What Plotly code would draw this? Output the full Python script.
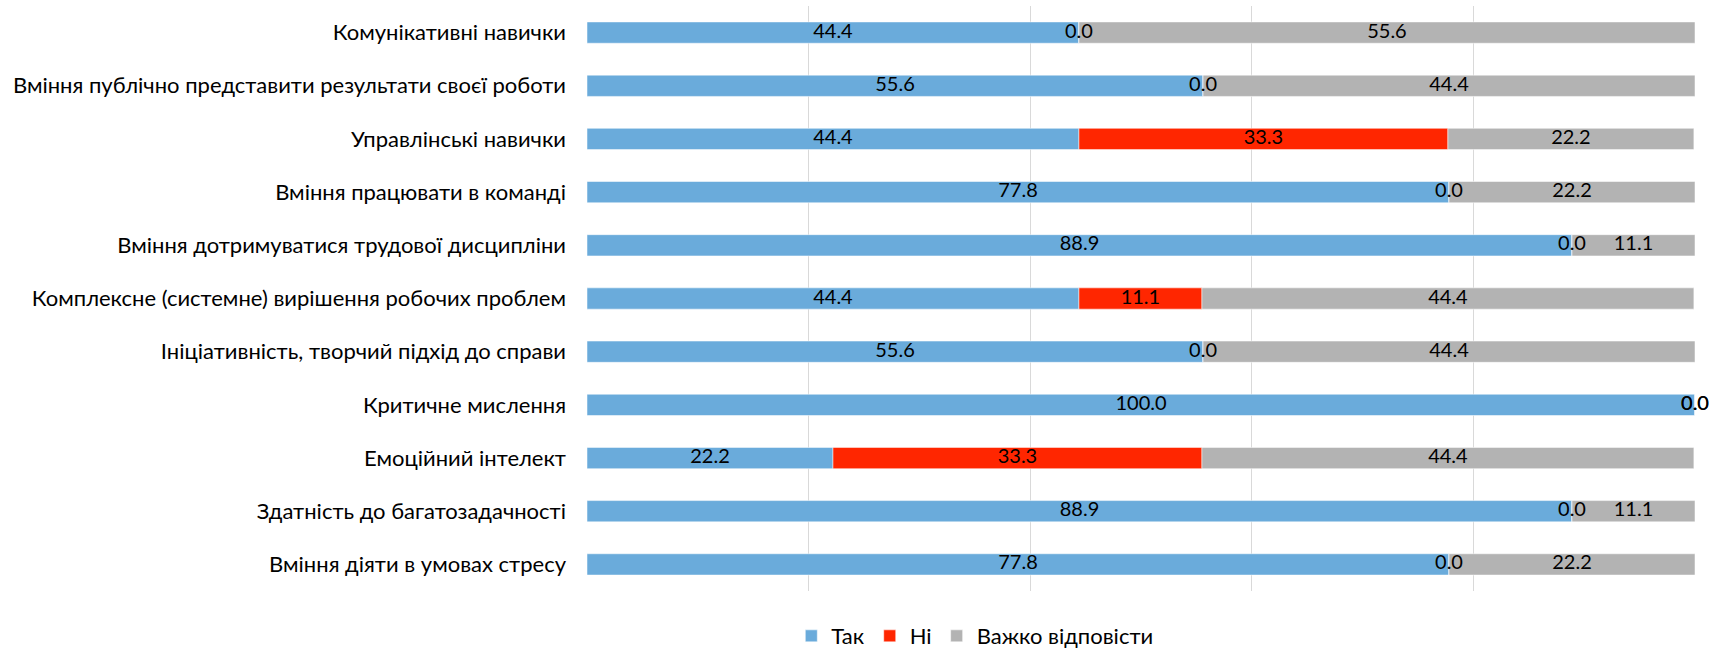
import plotly.graph_objects as go

categories = [
    "Комунікативні навички",
    "Вміння публічно представити результати своєї роботи",
    "Управлінські навички",
    "Вміння працювати в команді",
    "Вміння дотримуватися трудової дисципліни",
    "Комплексне (системне) вирішення робочих проблем",
    "Ініціативність, творчий підхід до справи",
    "Критичне мислення",
    "Емоційний інтелект",
    "Здатність до багатозадачності",
    "Вміння діяти в умовах стресу",
]
yes_vals = [44.4, 55.6, 44.4, 77.8, 88.9, 44.4, 55.6, 100.0, 22.2, 88.9, 77.8]
no_vals = [0.0, 0.0, 33.3, 0.0, 0.0, 11.1, 0.0, 0.0, 33.3, 0.0, 0.0]
hard_vals = [55.6, 44.4, 22.2, 22.2, 11.1, 44.4, 44.4, 0.0, 44.4, 11.1, 22.2]
series_names = ["Так", "Ні", "Важко відповісти"]
colors = ["#6AABDB", "#FF2600", "#B3B3B3"]

FONT = "Lato, Open Sans, sans-serif"

fig = go.Figure()
series = [yes_vals, no_vals, hard_vals]
bases = [[0.0] * len(categories)]
for s in series[:-1]:
    bases.append([b + v for b, v in zip(bases[-1], s)])

for name, vals, base, col in zip(series_names, series, bases, colors):
    fig.add_trace(go.Bar(
        y=categories, x=vals, base=base, name=name, orientation="h",
        marker=dict(color=col, line=dict(color="rgba(255,255,255,0.5)", width=1)),
        width=0.40, hoverinfo="x+name",
    ))

for name, vals, base in zip(series_names, series, bases):
    fig.add_trace(go.Scatter(
        y=categories, x=[b + v / 2 for b, v in zip(base, vals)],
        mode="text", text=[f"{v:.1f}" for v in vals],
        textfont=dict(family=FONT, size=20, color="#000000"),
        showlegend=False, hoverinfo="skip", cliponaxis=False,
    ))

fig.update_layout(
    barmode="overlay",
    width=1714, height=648,
    margin=dict(l=587, r=19, t=6, b=57, autoexpand=False),
    paper_bgcolor="white", plot_bgcolor="white",
    font=dict(family=FONT, size=22, color="#000000"),
    xaxis=dict(range=[0, 100], tick0=0, dtick=20, showticklabels=False,
               showgrid=True, gridcolor="#D9D9D9", gridwidth=1, zeroline=False,
               fixedrange=True, automargin=False),
    yaxis=dict(range=[10.5, -0.5], showgrid=False, ticks="", ticklabelstandoff=20,
               categoryorder="array", categoryarray=categories, automargin=False,
               tickfont=dict(family=FONT, size=22, color="#000000")),
    legend=dict(orientation="h", x=0.35, xanchor="center", y=-0.077, yanchor="middle",
                font=dict(family=FONT, size=22), traceorder="normal",
                itemwidth=30),
)
fig.write_html(
    "out.html",
    config={"displayModeBar": False},
    post_script="document.body.style.margin='0';document.body.style.overflow='hidden';",
)
